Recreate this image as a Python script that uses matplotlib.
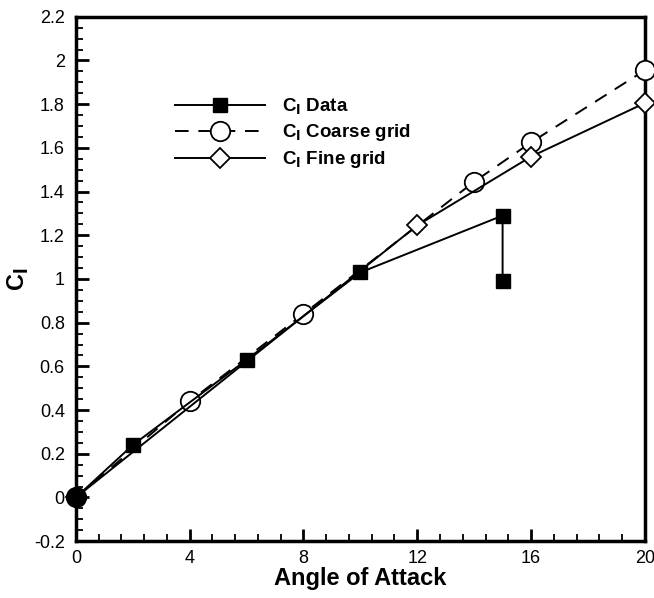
import matplotlib
matplotlib.use("Agg")
import matplotlib.pyplot as plt
from matplotlib.ticker import MultipleLocator, FuncFormatter

# Lift coefficient vs angle of attack
alpha_data = [0, 2, 6, 10, 15, 15]
cl_data = [0.0, 0.24, 0.63, 1.03, 1.29, 0.99]

alpha_coarse = [0, 4, 8, 14, 16, 20]
cl_coarse = [0.0, 0.44, 0.84, 1.445, 1.625, 1.955]

alpha_fine = [0, 12, 16, 20]
cl_fine = [0.0, 1.245, 1.56, 1.805]

x_ticks = [0, 4, 8, 12, 16, 20]
y_ticks = [-0.2, 0, 0.2, 0.4, 0.6, 0.8, 1, 1.2, 1.4, 1.6, 1.8, 2, 2.2]

plt.rcParams["font.family"] = ["Liberation Sans", "DejaVu Sans"]

fig = plt.figure(figsize=(6.54, 5.98), dpi=100)
ax = fig.add_axes([0.116, 0.095, 0.870, 0.877])

ax.plot(alpha_data, cl_data, color="black", lw=1.4, marker="s", ms=10,
        mfc="black", mec="black", label=r"C$_\mathbf{l}$ Data", clip_on=False, zorder=4)
ax.plot(alpha_coarse, cl_coarse, color="black", lw=1.4, ls=(0, (7, 5)), marker="o",
        ms=14, mfc="white", mec="black", mew=1.3, label=r"C$_\mathbf{l}$ Coarse grid",
        clip_on=False, zorder=3)
ax.plot(alpha_fine, cl_fine, color="black", lw=1.4, marker="D", ms=10.5,
        mfc="white", mec="black", mew=1.3, label=r"C$_\mathbf{l}$ Fine grid",
        clip_on=False, zorder=3)
# common origin point
ax.plot(alpha_data[0], cl_data[0], marker="o", ms=13, color="black",
        clip_on=False, zorder=5)

ax.set_xlim(0, 20)
ax.set_ylim(-0.2, 2.2)
ax.set_xticks(x_ticks)
ax.set_yticks(y_ticks)
ax.xaxis.set_minor_locator(MultipleLocator(0.8))
ax.yaxis.set_minor_locator(MultipleLocator(0.05))
ax.yaxis.set_major_formatter(FuncFormatter(lambda v, p: f"{v:g}"))

ax.tick_params(which="both", direction="in", top=False, right=False,
               labelsize=13, width=2)
ax.tick_params(which="major", length=9)
ax.tick_params(axis="x", which="major", pad=6)
ax.tick_params(axis="y", which="major", pad=8)
ax.tick_params(which="minor", length=5, width=1.3)
for s in ax.spines.values():
    s.set_linewidth(2.5)

ax.set_xlabel("Angle of Attack", fontsize=17, fontweight="bold", labelpad=0)
ax.set_ylabel(r"C$_\mathbf{l}$", fontsize=17, fontweight="bold", labelpad=2)

leg = ax.legend(loc="upper left", bbox_to_anchor=(0.145, 0.88), frameon=False,
                handlelength=4.8, handletextpad=0.9, labelspacing=0.3,
                prop={"weight": "bold", "size": 13.5})

fig.savefig("out.png", dpi=100)
